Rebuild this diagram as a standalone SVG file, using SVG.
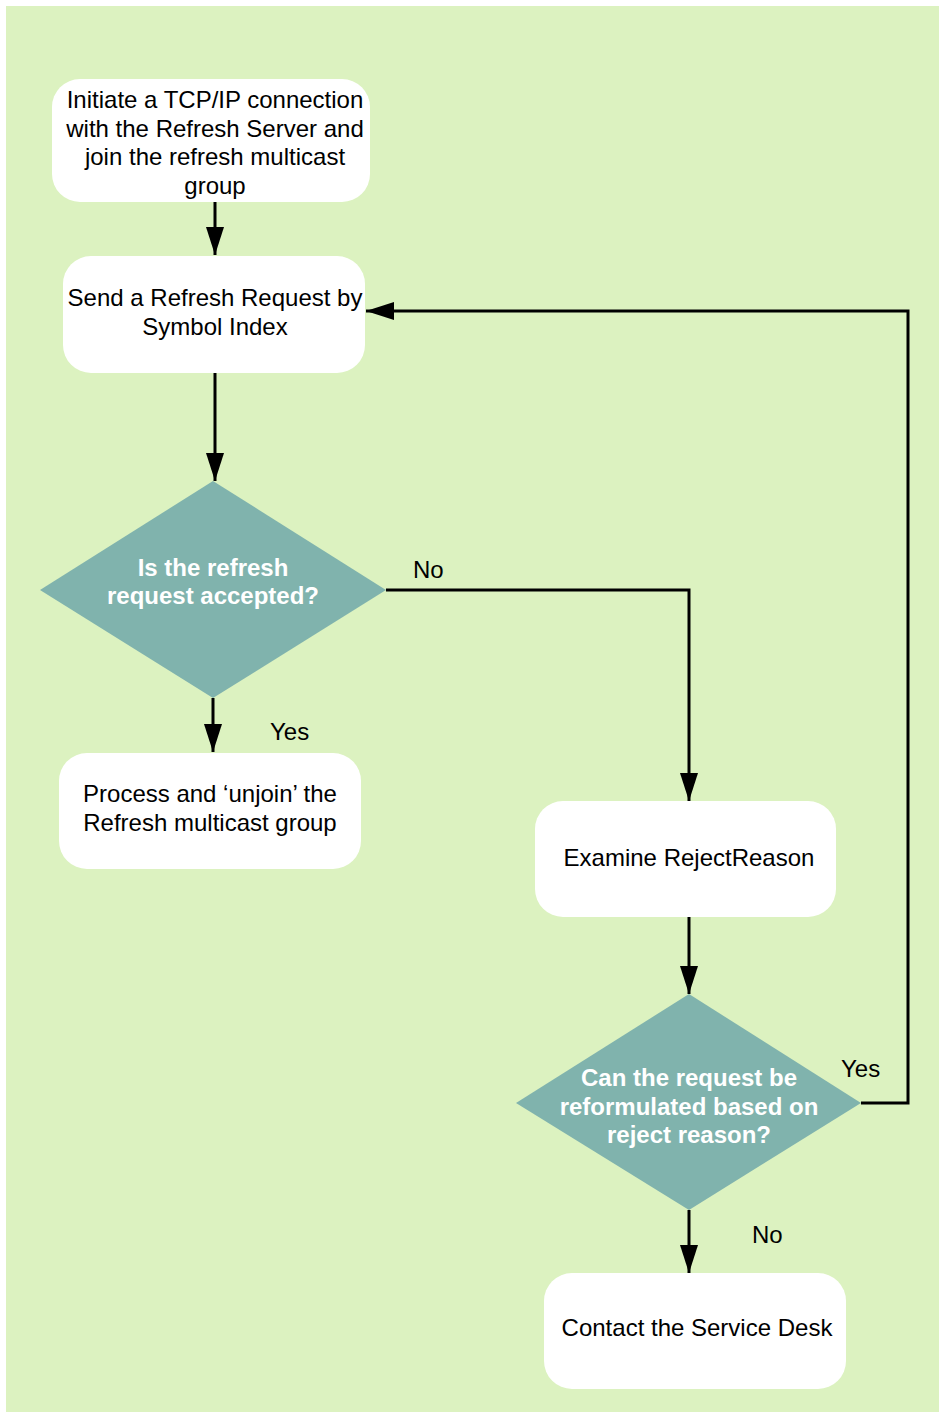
<svg xmlns="http://www.w3.org/2000/svg" width="939" height="1412" viewBox="0 0 939 1412">
  <style>
    .box { fill: #ffffff; }
    .dec { fill: #80b3ad; }
    .t { font-family: "Liberation Sans", Arial, sans-serif; font-size: 24px; fill: #000000; text-anchor: middle; }
    .td { font-family: "Liberation Sans", Arial, sans-serif; font-size: 24px; font-weight: bold; fill: #ffffff; text-anchor: middle; }
    .lbl { font-family: "Liberation Sans", Arial, sans-serif; font-size: 24px; fill: #000000; }
    .edge { fill: none; stroke: #000000; stroke-width: 3; }
  </style>
  <defs>
    <marker id="arrow" viewBox="0 0 28 18" refX="28" refY="9" markerWidth="28" markerHeight="18" markerUnits="userSpaceOnUse" orient="auto">
      <path d="M0,0 L28,9 L0,18 Z" fill="#000000"/>
    </marker>
  </defs>

  <!-- page background -->
  <rect x="6" y="6" width="933" height="1406" fill="#dcf2c0"/>

  <!-- connectors -->
  <g id="connectors">
    <path class="edge" d="M215,202 L215,255" marker-end="url(#arrow)"/>
    <path class="edge" d="M215,373 L215,481" marker-end="url(#arrow)"/>
    <path class="edge" d="M213,698 L213,752" marker-end="url(#arrow)"/>
    <path class="edge" d="M386,590 L689,590 L689,801" marker-end="url(#arrow)"/>
    <path class="edge" d="M689,917 L689,994" marker-end="url(#arrow)"/>
    <path class="edge" d="M689,1210 L689,1273" marker-end="url(#arrow)"/>
    <path class="edge" d="M861,1103 L908,1103 L908,311 L366,311" marker-end="url(#arrow)"/>
    <text class="lbl" x="413" y="578">No</text>
    <text class="lbl" x="270" y="740">Yes</text>
    <text class="lbl" x="841" y="1077">Yes</text>
    <text class="lbl" x="752" y="1243">No</text>
  </g>

  <g id="n-connect">
    <rect class="box" x="52" y="79" width="318" height="123" rx="28" ry="28"/>
    <text class="t" x="215" y="108">Initiate a TCP/IP connection</text>
    <text class="t" x="215" y="137">with the Refresh Server and</text>
    <text class="t" x="215" y="165">join the refresh multicast</text>
    <text class="t" x="215" y="194">group</text>
  </g>

  <g id="n-send">
    <rect class="box" x="63" y="256" width="302" height="117" rx="28" ry="28"/>
    <text class="t" x="215" y="306">Send a Refresh Request by</text>
    <text class="t" x="215" y="335">Symbol Index</text>
  </g>

  <g id="d-accepted">
    <polygon class="dec" points="213,481 386,590 213,698 40,590"/>
    <text class="td" x="213" y="576">Is the refresh</text>
    <text class="td" x="213" y="604">request accepted?</text>
  </g>

  <g id="n-process">
    <rect class="box" x="59" y="753" width="302" height="116" rx="28" ry="28"/>
    <text class="t" x="210" y="802">Process and ‘unjoin’ the</text>
    <text class="t" x="210" y="831">Refresh multicast group</text>
  </g>

  <g id="n-examine">
    <rect class="box" x="535" y="801" width="301" height="116" rx="28" ry="28"/>
    <text class="t" x="689" y="866">Examine RejectReason</text>
  </g>

  <g id="d-reformulate">
    <polygon class="dec" points="689,994 861,1103 689,1210 516,1103"/>
    <text class="td" x="689" y="1086">Can the request be</text>
    <text class="td" x="689" y="1115">reformulated based on</text>
    <text class="td" x="689" y="1143">reject reason?</text>
  </g>

  <g id="n-service">
    <rect class="box" x="544" y="1273" width="302" height="116" rx="28" ry="28"/>
    <text class="t" x="697" y="1336">Contact the Service Desk</text>
  </g>
</svg>
